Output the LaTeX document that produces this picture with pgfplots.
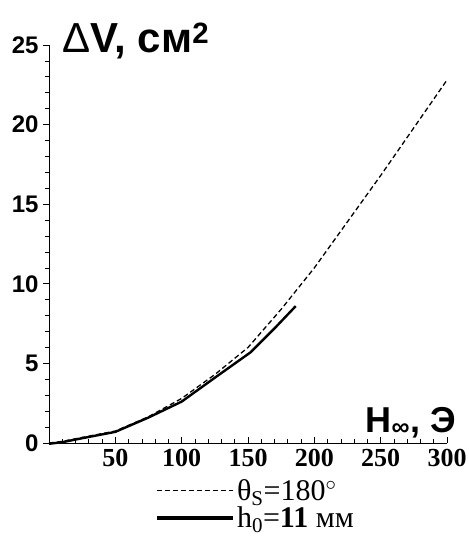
\documentclass[border=0pt]{standalone}
\usepackage{fontspec}
\setmainfont{Liberation Serif}
\newfontfamily\arial{Liberation Sans}
\usepackage{pgfplots}
\pgfplotsset{compat=1.18}
\begin{document}
\begin{tikzpicture}
\useasboundingbox (0,0) rectangle (468pt,537pt);
\begin{axis}[
  at={(49pt,94pt)}, anchor=south west,
  scale only axis, width=398pt, height=398pt,
  xmin=0, xmax=300, ymin=0, ymax=25,
  axis lines=left, axis line style={-, line width=0.8pt},
  clip=false,
  xtick={50,100,...,300},
  minor xtick={10,20,...,290},
  ytick={0,5,...,25},
  minor ytick={1,2,3,4,6,7,8,9,11,12,13,14,16,17,18,19,21,22,23,24},
  xtick align=inside, ytick align=outside,
  major tick length=6pt, minor tick length=4pt,
  tick style={black, line width=0.7pt},
  /pgf/number format/assume math mode=true,
  xticklabel style={font=\bfseries\fontsize{26}{26}\selectfont, yshift=-3pt},
  yticklabel style={font=\arial\bfseries\fontsize{24}{24}\selectfont, xshift=-1pt},
  legend style={at={(rel axis cs:0.266,-0.085)}, anchor=north west, draw=none, fill=none,
    font=\fontsize{30}{30}\selectfont, row sep=1pt, inner sep=0pt,
    /tikz/every even column/.append style={column sep=3pt}},
  legend cell align=left,
  legend image code/.code={\draw[#1] (0pt,0pt) -- (76pt,0pt);},
]
\addplot[black, line width=1.3pt, dash pattern=on 5pt off 3pt] coordinates {
(0,0) (10,0.1) (25,0.35) (50,0.75) (75,1.65) (100,2.8) (125,4.3) (150,6.0) (175,8.4) (200,11.0) (225,13.9) (250,16.8) (275,19.8) (300,22.8)};
\addlegendentry{θ\textsubscript{S}=180$^{\circ}$}
\addplot[black, line width=2.4pt, legend image post style={line width=4pt}] coordinates {
(0,-0.05) (10,0.05) (25,0.3) (50,0.7) (75,1.6) (100,2.6) (125,4.1) (152,5.7) (170,7.2) (186,8.6)};
\addlegendentry{h\textsubscript{0}=\textbf{11} мм}
\node[anchor=base west, inner sep=0pt, font=\arial\fontsize{42}{42}\selectfont] at (rel axis cs:0.033,0.982) {Δ\textbf{V, см}\textsuperscript{\textbf{2}}};
\node[anchor=base west, inner sep=0pt, font=\arial\bfseries\fontsize{36}{36}\selectfont] at (rel axis cs:0.795,0.0276) {H\textsubscript{∞}, Э};
\end{axis}
\end{tikzpicture}
\end{document}
